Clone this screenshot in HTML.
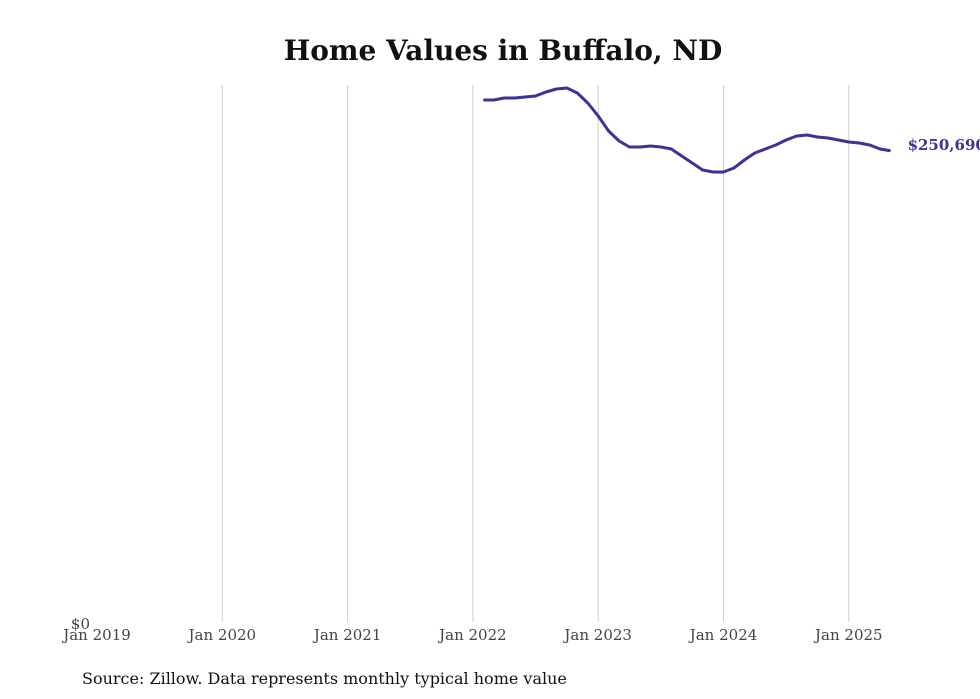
<!DOCTYPE html>
<html><head><meta charset="utf-8"><style>
html,body{margin:0;padding:0;background:#fff;width:980px;height:699px;overflow:hidden}
svg{display:block;font-family:"DejaVu Serif","Liberation Serif",serif}
</style></head><body>
<svg id="chart" width="980" height="699">
<text x="503" y="60" text-anchor="middle" font-size="28" font-weight="bold" fill="#111">Home Values in Buffalo, ND</text>
<g id="grid"></g><g id="xlabels"></g>
<text x="90" y="629" text-anchor="end" font-size="15" fill="#444">$0</text>
<path id="line" fill="none" stroke="#3a3496" stroke-width="3" stroke-linejoin="round"/>
<text id="endlabel" font-size="15" font-weight="bold" fill="#3a3496"></text>
<text x="82" y="684" font-size="16" fill="#111">Source: Zillow. Data represents monthly typical home value</text>
</svg>
<script>
const tickYears=[2019,2020,2021,2022,2023,2024,2025];
const tickLabels=["Jan 2019","Jan 2020","Jan 2021","Jan 2022","Jan 2023","Jan 2024","Jan 2025"];
const startYear=2022, startMonth=1; // Feb 2022 (0-based month)
const values=[277700,277700,278770,278770,279300,279830,281960,283560,284090,281430,276110,269190,261210,255890,252700,252700,253230,252700,251640,247910,244190,240460,239400,239400,241530,245780,249510,251640,253760,256420,258550,259080,258020,257490,256420,255360,254830,253760,251640,250690];
const x0=97, pxPerYear=125.3, y0=622, dollarsPerPx=532;
const xs=t=>x0+(t-2019)*pxPerYear;
const ys=v=>y0-v/dollarsPerPx;
const NS="http://www.w3.org/2000/svg";
const grid=document.getElementById('grid'), xl=document.getElementById('xlabels');
tickYears.forEach((yr,i)=>{
  const x=xs(yr);
  if(i>0){const l=document.createElementNS(NS,'line');
  
  
  l.setAttribute('x1',x);l.setAttribute('x2',x);l.setAttribute('y1',85);l.setAttribute('y2',622);
  l.setAttribute('stroke','#cccccc');l.setAttribute('stroke-width','1');grid.appendChild(l);}
  const t=document.createElementNS(NS,'text');
  
  
  t.setAttribute('x',x);t.setAttribute('y',640);t.setAttribute('text-anchor','middle');
  t.setAttribute('font-size','15');t.setAttribute('fill','#444');t.textContent=tickLabels[i];xl.appendChild(t);
});
let d='',lx=0,ly=0;
values.forEach((v,i)=>{const t=startYear+(startMonth+i)/12;lx=xs(t);ly=ys(v);d+=(i?'L':'M')+lx.toFixed(1)+','+ly.toFixed(1);});
document.getElementById('line').setAttribute('d',d);
const el=document.getElementById('endlabel');
el.setAttribute('x',lx+17);el.setAttribute('y',ly-1);
el.textContent='$'+values[values.length-1].toLocaleString('en-US');
</script>
</body></html>
